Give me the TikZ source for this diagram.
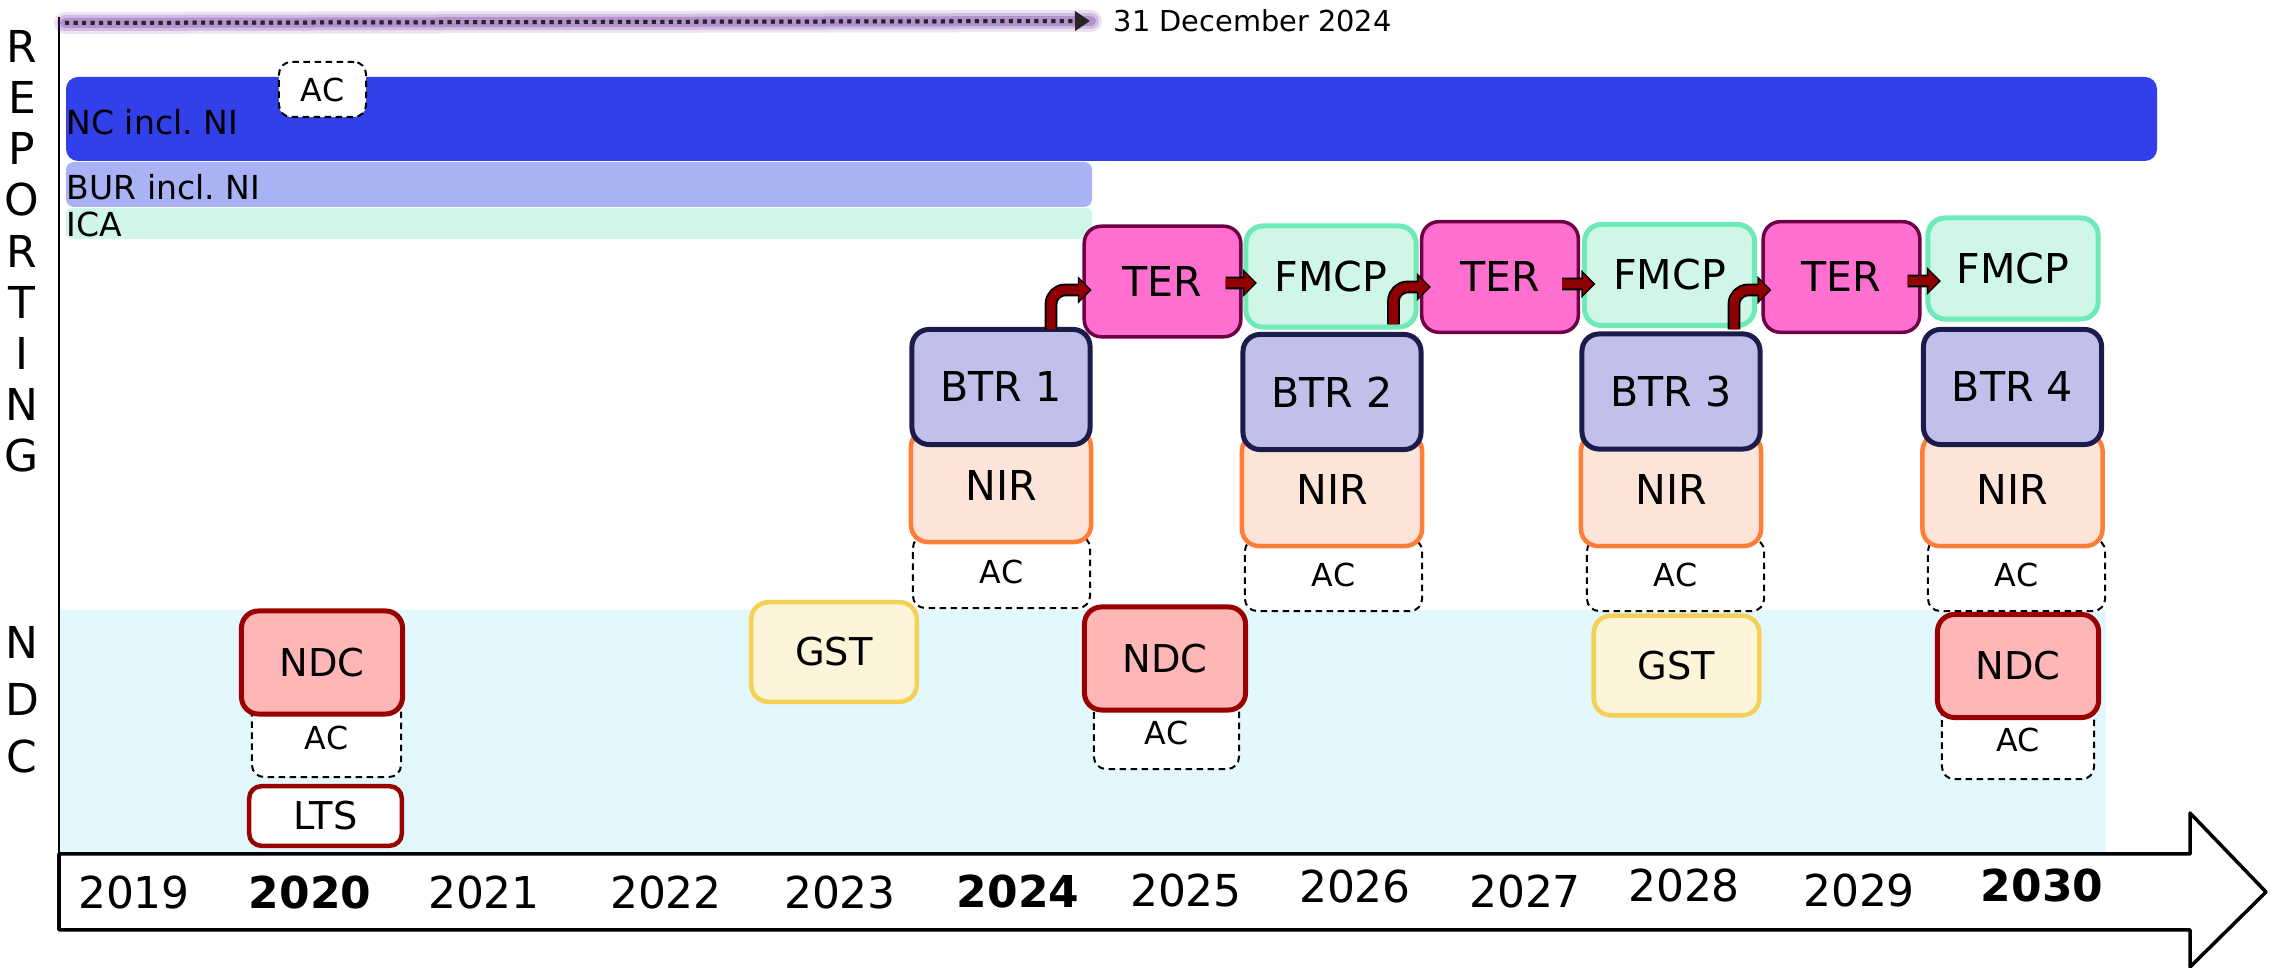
\documentclass[tikz,border=0pt]{standalone}
\usepackage{fontspec}
\setmainfont{DejaVu Sans}
\usepackage{xcolor}
\usepackage{tikz}
\usetikzlibrary{positioning,calc,arrows.meta}

\definecolor{ncblue}{HTML}{3140E8}
\definecolor{burblue}{HTML}{AAB2F6}
\definecolor{icamint}{HTML}{CFF6E6}
\definecolor{terfill}{HTML}{FF6FCF}
\definecolor{terline}{HTML}{6E0046}
\definecolor{fmcpline}{HTML}{6EE9B8}
\definecolor{btrfill}{HTML}{C0C0EA}
\definecolor{btrline}{HTML}{1C1C4C}
\definecolor{nirfill}{HTML}{FDE4D8}
\definecolor{nirline}{HTML}{FF7D37}
\definecolor{ndcfill}{HTML}{FFB6B6}
\definecolor{ndcline}{HTML}{990000}
\definecolor{gstfill}{HTML}{FDF5DA}
\definecolor{gstline}{HTML}{F5D055}
\definecolor{ndcband}{HTML}{E2F8FE}
\definecolor{arrred}{HTML}{900000}
\definecolor{glowpurple}{HTML}{7030A0}

\newcommand{\setfs}[1]{\fontsize{#1}{#1}\selectfont}

\begin{document}
\begin{tikzpicture}[
				x=0.01cm,y=-0.01cm,
				line join=round,
				font=\setfs{11.7},
				box/.style={rounded corners=0.17cm, inner sep=0pt, align=center},
				terbox/.style={box, draw=terline, fill=terfill, line width=0.035cm,
					minimum width=1.565cm, minimum height=1.105cm},
				fmcpbox/.style={box, draw=fmcpline, fill=icamint, line width=0.05cm,
					minimum width=1.70cm, minimum height=1.01cm},
				btrbox/.style={box, draw=btrline, fill=btrfill, line width=0.05cm,
					minimum width=1.78cm, minimum height=1.15cm},
				nirbox/.style={box, draw=nirline, fill=nirfill, line width=0.045cm,
					minimum width=1.80cm, minimum height=1.12cm},
				acbox/.style={box, draw=black, fill=white, line width=0.02cm,
					dash pattern=on 0.065cm off 0.045cm, rounded corners=0.12cm,
					minimum width=1.77cm, minimum height=0.72cm, font=\setfs{9}},
				ndcbox/.style={box, draw=ndcline, fill=ndcfill, line width=0.05cm,
					minimum width=1.61cm, minimum height=1.03cm, font=\setfs{10.9}},
				gstbox/.style={box, draw=gstline, fill=gstfill, line width=0.045cm,
					minimum width=1.655cm, minimum height=0.995cm, font=\setfs{10.9}},
				ltsbox/.style={box, draw=ndcline, fill=white, line width=0.045cm,
					rounded corners=0.12cm, minimum width=1.525cm, minimum height=0.595cm,
					font=\setfs{10.9}},
				barlbl/.style={anchor=west, inner sep=0pt, font=\setfs{9.4}},
				sidelbl/.style={inner sep=0pt, font=\setfs{12.5}},
				yearlbl/.style={inner sep=0pt, font=\setfs{12.5}},
				redarr/.style={arrred, line width=0.09cm, shorten >=0.022cm,
					-{Triangle[length=0.105cm,width=0.21cm]},
					preaction={draw=black, line width=0.128cm, shorten >=0cm,
						-{Triangle[length=0.14cm,width=0.27cm]}}}
				]
				\useasboundingbox (0,0) rectangle (2270,968);
				
				%----- NDC band + vertical axis
				\fill[ndcband] (60,610) rectangle (2106,854);
				\draw[black, line width=0.023cm] (59,17) -- (59,854);
				
				%----- dotted arrow up to 31 December 2024
				\coordinate (dotL) at (65,23);
				\node[anchor=west, inner sep=0pt, font=\setfs{8.2}] (date) at (1113,21) {31 December 2024};
				\foreach \w/\o in {0.22/0.14, 0.16/0.20, 0.10/0.30}{
					\draw[glowpurple, line width=\w cm, opacity=\o, line cap=round]
					(dotL) -- ([xshift=-0.22cm]date.west);
				}
				\draw[glowpurple, line width=0.04cm, dash pattern=on 0.04cm off 0.045cm, yshift=-0.03cm]
				(dotL) -- ([xshift=-0.3cm]date.west);
				\draw[black!85, line width=0.04cm, dash pattern=on 0.04cm off 0.045cm,
				-{Triangle[length=0.15cm,width=0.19cm]}]
				(dotL) -- ([xshift=-0.23cm]date.west);
				
				%----- reporting bars
				\fill[ncblue, rounded corners=0.12cm] (66,77) rectangle (2157,161);
				\node[barlbl] (ncLbl) at (66,122) {NC incl.\ NI};
				\fill[burblue, rounded corners=0.08cm] (66,162) rectangle (1092,207);
				\node[barlbl] (burLbl) at (66,187) {BUR incl.\ NI};
				\fill[icamint, rounded corners=0.05cm] (66,208) rectangle (1092,239);
				\node[barlbl] (icaLbl) at (66,224) {ICA};
				\node[acbox, minimum width=0.87cm, minimum height=0.55cm] (acNC) at (322.5,89.5) {AC};
				
				%----- side letters
				\foreach \ch [count=\i] in {R,E,P,O,R,T,I,N,G}{
					\node[sidelbl] (rep\i) at (22,{46+(\i-1)*51.25}) {\ch};
				}
				\foreach \ch [count=\i] in {N,D,C}{
					\node[sidelbl] (ndc\i) at (22,{642+(\i-1)*57.5}) {\ch};
				}
				
				%----- timeline arrow + years
				\draw[black, line width=0.035cm, fill=white]
				(59,854) -- (2190,854) -- (2190,813) -- (2266,892) -- (2190,967) -- (2190,930) -- (59,930) -- cycle;
				\foreach \yr/\xc/\yc/\wt in {2019/134/893/\mdseries, 2020/310/893/\bfseries,
					2021/484/893/\mdseries, 2022/666/893/\mdseries, 2023/840/893/\mdseries,
					2024/1018/892/\bfseries, 2025/1186/891/\mdseries, 2026/1355/887/\mdseries,
					2027/1525/892/\mdseries, 2028/1684/886/\mdseries, 2029/1859/891/\mdseries,
					2030/2042/886/\bfseries}{
					\node[yearlbl] (y\yr) at (\xc,\yc) {\wt\yr};
				}
				
				%----- BTR columns: AC under NIR under BTR
				\node[acbox] (acR1) at (1001.5,572) {AC};
				\node[acbox] (acR2) at (1333.5,575) {AC};
				\node[acbox] (acR3) at (1675.5,575) {AC};
				\node[acbox] (acR4) at (2016.5,575) {AC};
				
				\node[nirbox] (nir1) at (1001,486) {NIR};
				\node[nirbox] (nir2) at (1332,490) {NIR};
				\node[nirbox] (nir3) at (1671,490) {NIR};
				\node[nirbox] (nir4) at (2012.5,490) {NIR};
				
				\node[btrbox] (btr1) at (1001,387) {BTR 1};
				\node[btrbox] (btr2) at (1332,392) {BTR 2};
				\node[btrbox] (btr3) at (1671,391.5) {BTR 3};
				\node[btrbox] (btr4) at (2012.5,387) {BTR 4};
				
				%----- TER / FMCP row
				\node[terbox] (ter1) at (1162.5,281.5) {TER};
				\node[fmcpbox] (fmcp1) at (1331,276.5) {FMCP};
				\node[terbox] (ter2) at (1500,277) {TER};
				\node[fmcpbox] (fmcp2) at (1669.5,275) {FMCP};
				\node[terbox] (ter3) at (1841.5,277) {TER};
				\node[fmcpbox] (fmcp3) at (2013,268.5) {FMCP};
				
				%----- red arrows
				\draw[redarr, rounded corners=0.14cm]
				([xshift=0.5cm,yshift=-0.025cm]btr1.north) |- ([xshift=0.093cm,yshift=-0.085cm]ter1.west);
				\draw[redarr, rounded corners=0.14cm]
				([xshift=0.615cm,yshift=0.075cm]btr2.north) |- ([xshift=0.11cm,yshift=-0.10cm]ter2.west);
				\draw[redarr, rounded corners=0.14cm]
				([xshift=0.63cm,yshift=0.02cm]btr3.north) |- ([xshift=0.10cm,yshift=-0.13cm]ter3.west);
				
				\draw[redarr] ([xshift=-0.17cm,yshift=-0.015cm]ter1.east) -- ([xshift=0.135cm,yshift=-0.065cm]fmcp1.west);
				\draw[redarr] ([xshift=-0.18cm,yshift=-0.07cm]ter2.east) -- ([xshift=0.135cm,yshift=-0.09cm]fmcp2.west);
				\draw[redarr] ([xshift=-0.14cm,yshift=-0.04cm]ter3.east) -- ([xshift=0.155cm,yshift=-0.125cm]fmcp3.west);
				
				%----- NDC row
				\node[acbox, minimum width=1.49cm, minimum height=0.78cm] (acN1) at (326.5,738) {AC};
				\node[acbox, minimum width=1.45cm, minimum height=0.72cm] (acN2) at (1166.5,733) {AC};
				\node[acbox, minimum width=1.52cm, minimum height=0.78cm] (acN3) at (2018,740) {AC};
				
				\node[ndcbox] (ndc2020) at (322,662.5) {NDC};
				\node[ndcbox] (ndc2025) at (1165,658.5) {NDC};
				\node[ndcbox] (ndc2030) at (2018,666) {NDC};
				
				\node[gstbox] (gst2023) at (834,652) {GST};
				\node[gstbox] (gst2028) at (1676.5,665.5) {GST};
				
				\node[ltsbox] (lts) at (325.5,816) {LTS};
				
			\end{tikzpicture}
\end{document}
